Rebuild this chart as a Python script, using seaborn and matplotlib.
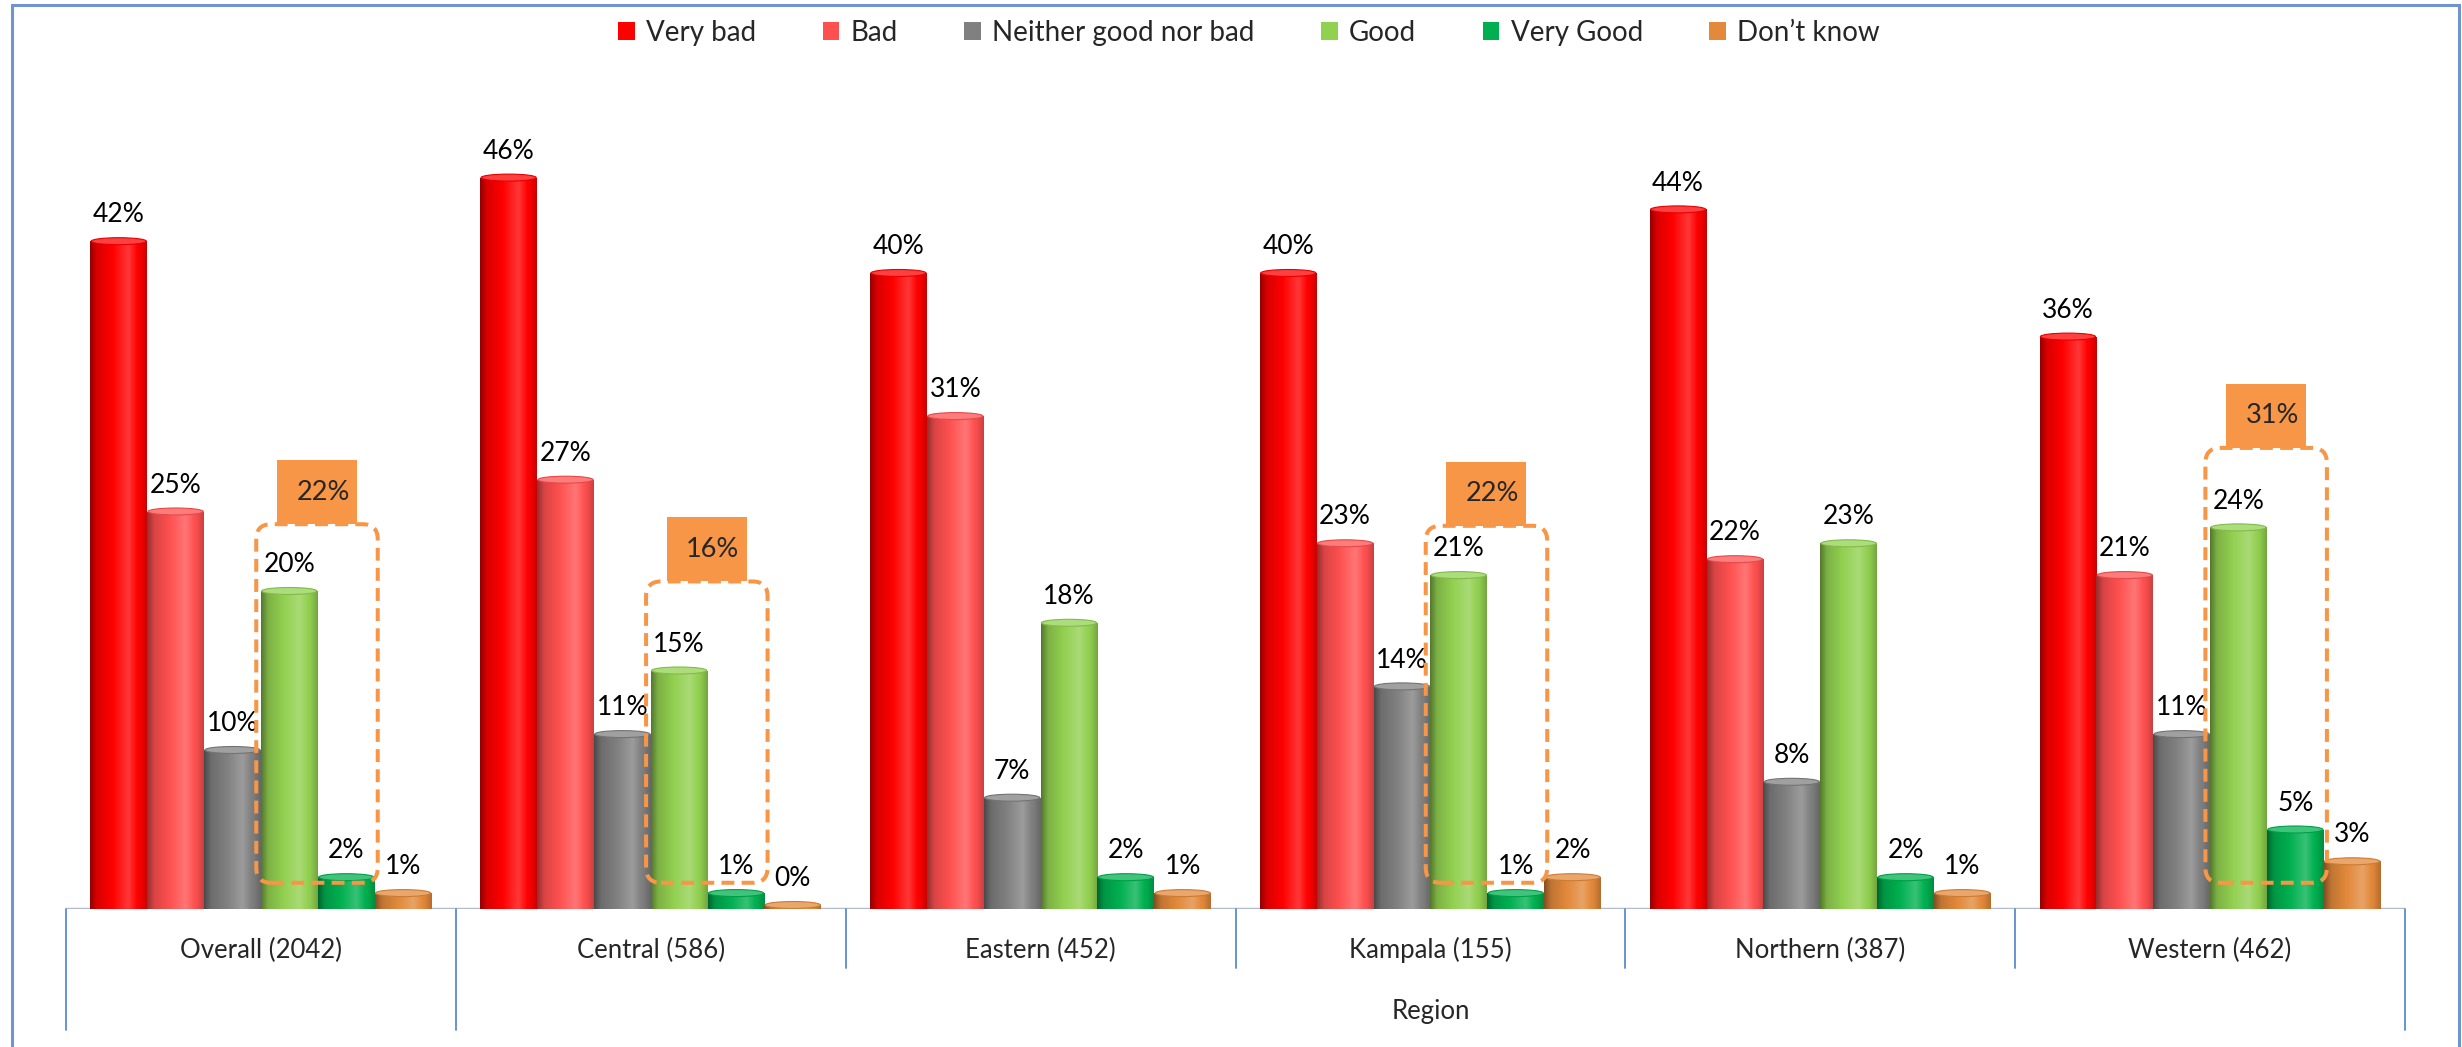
import numpy as np
import pandas as pd
import matplotlib
matplotlib.use("Agg")
import matplotlib.pyplot as plt
import matplotlib.transforms as mtransforms
from matplotlib.patches import Patch, FancyBboxPatch, Rectangle, Ellipse
from matplotlib.colors import to_rgb
import seaborn as sns

# ---------------- data ----------------
categories = ["Overall (2042)", "Central (586)", "Eastern (452)",
              "Kampala (155)", "Northern (387)", "Western (462)"]
series = ["Very bad", "Bad", "Neither good nor bad", "Good", "Very Good", "Don\u2019t know"]
very_bad = [42, 46, 40, 40, 44, 36]
bad = [25, 27, 31, 23, 22, 21]
neither = [10, 11, 7, 14, 8, 11]
good = [20, 15, 18, 21, 23, 24]
very_good = [2, 1, 2, 1, 2, 5]
dont_know = [1, 0, 1, 2, 1, 3]
colors = ["#FF0000", "#FF5050", "#808080", "#92D050", "#00B050", "#E2893B"]

# highlighted "Good + Very Good" callouts
highlight_groups = [0, 1, 3, 5]
highlight_labels = ["22%", "16%", "22%", "31%"]
highlight_tops = [24.2, 20.6, 24.1, 29.0]
group_title = "Region"

values = [very_bad, bad, neither, good, very_good, dont_know]
rows = []
for s, vals in zip(series, values):
    for c, v in zip(categories, vals):
        rows.append({"Region": c, "Rating": s, "Value": v})
df = pd.DataFrame(rows)

# ---------------- figure ----------------
sns.set_style("white")
plt.rcParams["font.family"] = ["Lato", "DejaVu Sans"]

LABEL_FS = 19
CAT_FS = 18.5
LEG_FS = 20

W, H = 2462, 1047
fig = plt.figure(figsize=(W / 100, H / 100), dpi=100)
base_px = 909
ax_h_px = 795
ax_left_px, ax_right_px = 66, 2405
ax = fig.add_axes([ax_left_px / W, (H - base_px) / H,
                   (ax_right_px - ax_left_px) / W, ax_h_px / H])
ymax = 50

sns.barplot(data=df, x="Region", y="Value", hue="Rating", order=categories,
            hue_order=series, palette=colors, width=0.875, dodge=True,
            errorbar=None, legend=False, saturation=1, linewidth=0,
            edgecolor="none", ax=ax)
ax.set_xlim(-0.5, len(categories) - 0.5)
ax.set_ylim(0, ymax)

# cylinder-like shading
t = np.linspace(0, 1, 80)
prof_t = [0, 0.12, 0.4, 0.68, 0.88, 1]
prof_f = [0.58, 0.85, 1.0, 1.1, 0.97, 0.8]
f = np.interp(t, prof_t, prof_f)


def shade(color):
    rgb = np.array(to_rgb(color))
    out = np.empty((1, len(f), 3))
    for k, fk in enumerate(f):
        if fk <= 1:
            out[0, k] = rgb * fk
        else:
            out[0, k] = rgb + (1 - rgb) * (fk - 1) * 2.2
    return np.clip(out, 0, 1)


px_y = ax_h_px / ymax
cap_h = 7 / px_y
for i, cont in enumerate(ax.containers):
    grad = shade(colors[i])
    rgb = np.array(to_rgb(colors[i]))
    cap_col = np.clip(rgb + (1 - rgb) * 0.25, 0, 1)
    for p in cont.patches:
        x0, w, h = p.get_x(), p.get_width(), p.get_height()
        if h <= 0:
            p.set_height(0.25)
        im = ax.imshow(grad, extent=[x0, x0 + w, 0, p.get_height()], aspect="auto",
                       interpolation="bicubic", zorder=2.1)
        im.set_clip_path(p)
        ax.add_patch(Ellipse((x0 + w / 2, p.get_height()), w * 0.97, cap_h,
                             facecolor=cap_col, edgecolor=np.clip(rgb * 0.9, 0, 1),
                             lw=0.8, zorder=2.2))
    ax.bar_label(cont, labels=[f"{v:.0f}%" for v in values[i]], padding=10,
                 fontsize=LABEL_FS, color="black", zorder=6)

ax.set_xlim(-0.5, len(categories) - 0.5)
ax.set_ylim(0, ymax)
ax.set_aspect("auto")

# floor line
ax.axhline(0, color="#B3BBCF", lw=2.5, zorder=1)

# axes styling
for sp in ax.spines.values():
    sp.set_visible(False)
ax.set_yticks([])
ax.set_xticks([])
ax.set_xlabel("")
ax.set_ylabel("")

trans = mtransforms.blended_transform_factory(ax.transData, ax.transAxes)
for ci, c in enumerate(categories):
    ax.text(ci, -(950 - base_px) / ax_h_px, c, transform=trans, ha="center",
            va="center", fontsize=CAT_FS)
ax.text((1 + len(categories) - 1) / 2, -(1012 - base_px) / ax_h_px, group_title,
        transform=trans, ha="center", va="center", fontsize=CAT_FS)

bounds = np.arange(-0.5, len(categories), 1.0)
for xb in bounds:
    long_line = xb in (-0.5, 0.5, len(categories) - 0.5)
    ylow = -(1030 - base_px) / ax_h_px if long_line else -(968 - base_px) / ax_h_px
    ax.plot([xb, xb], [0, ylow], transform=trans, color="#5B8BD0", lw=1.3,
            clip_on=False, zorder=1)

# callout boxes
px_x = (ax_right_px - ax_left_px) / len(categories)
bw = 0.875 / len(series)
orange = "#F79646"
for g, lab, top in zip(highlight_groups, highlight_labels, highlight_tops):
    left = g - 0.875 / 2 + 3 * bw - 0.012
    right = g - 0.875 / 2 + 5 * bw + 0.008
    bottom = 1.65
    box = FancyBboxPatch((left, bottom), right - left, top - bottom,
                         boxstyle=f"round,pad=0,rounding_size={15 / px_x}",
                         mutation_aspect=px_x / px_y, fill=False, ec=orange,
                         lw=2.9, ls=(0, (3.2, 1.8)), zorder=7, clip_on=False)
    ax.add_patch(box)
    cx = (left + right) / 2
    bw_lab = 80 / px_x
    bh_lab = 64 / px_y
    ax.add_patch(Rectangle((cx - bw_lab / 2, top), bw_lab, bh_lab, facecolor=orange,
                           edgecolor="none", zorder=6.5, clip_on=False))
    ax.text(cx + 6 / px_x, top + bh_lab / 2, lab, ha="center", va="center",
            fontsize=LABEL_FS + 0.5, zorder=8)

# legend
handles = [Patch(facecolor=c, edgecolor="none") for c in colors]
fig.legend(handles, series, loc="center", bbox_to_anchor=(1249 / W, 1 - 33 / H),
           ncol=6, frameon=False, fontsize=LEG_FS, handlelength=0.6, handleheight=0.6,
           handletextpad=0.4, columnspacing=2.4)

# outer border
fig.add_artist(Rectangle((12 / W, -0.05), (2459 - 12) / W, 1 - 5 / H + 0.05,
                         transform=fig.transFigure, fill=False, ec="#7094CF",
                         lw=2.2, clip_on=False))

fig.savefig("out.png", dpi=100)
